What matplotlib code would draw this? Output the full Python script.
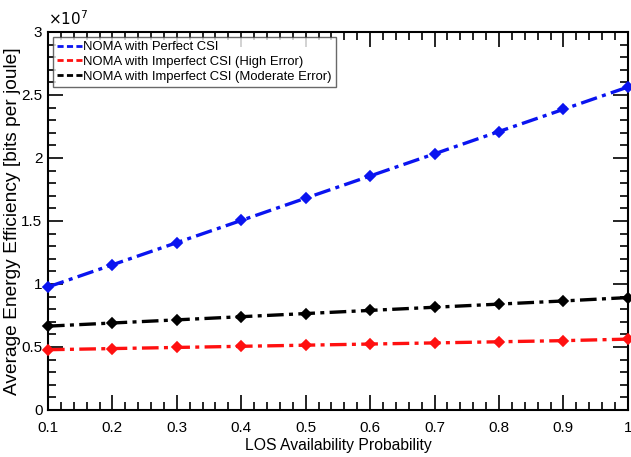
import matplotlib
matplotlib.use("Agg")
import matplotlib.pyplot as plt
from matplotlib.lines import Line2D
from matplotlib.ticker import MultipleLocator, FuncFormatter

plt.rcParams['font.family'] = ['Liberation Sans', 'DejaVu Sans']

los_prob = [0.1, 0.2, 0.3, 0.4, 0.5, 0.6, 0.7, 0.8, 0.9, 1.0]
ee_perfect = [0.976e7, 1.152e7, 1.328e7, 1.504e7, 1.681e7, 1.857e7, 2.033e7, 2.210e7, 2.386e7, 2.563e7]
ee_high_err = [0.478e7, 0.487e7, 0.496e7, 0.505e7, 0.514e7, 0.523e7, 0.532e7, 0.541e7, 0.550e7, 0.562e7]
ee_mod_err = [0.665e7, 0.690e7, 0.715e7, 0.740e7, 0.765e7, 0.790e7, 0.815e7, 0.840e7, 0.865e7, 0.892e7]

labels = ["NOMA with Perfect CSI",
          "NOMA with Imperfect CSI (High Error)",
          "NOMA with Imperfect CSI (Moderate Error)"]
colors = ["#0a14f0", "#ff1010", "#000000"]

fig = plt.figure(figsize=(6.31, 4.57), dpi=100)
ax = fig.add_axes([0.076, 0.103, 0.919, 0.827])

for y, c in zip([ee_perfect, ee_high_err, ee_mod_err], colors):
    ax.plot(los_prob, y, color=c, linestyle=(0, (5, 1.6, 1.2, 1.6)), linewidth=2.4,
            marker='D', markersize=5.5, markeredgewidth=1.2, clip_on=False, zorder=3)

ax.set_xlim(0.1, 1.0)
ax.set_ylim(0, 3e7)
ax.xaxis.set_major_locator(MultipleLocator(0.1))
ax.xaxis.set_minor_locator(MultipleLocator(0.02))
ax.yaxis.set_major_locator(MultipleLocator(0.5e7))
ax.yaxis.set_minor_locator(MultipleLocator(0.1e7))
ax.xaxis.set_major_formatter(FuncFormatter(lambda v, p: f"{v:g}"))
ax.yaxis.set_major_formatter(FuncFormatter(lambda v, p: f"{v / 1e7:g}"))

ax.tick_params(which='both', direction='in', top=True, right=True, labelsize=11, width=1.2)
ax.tick_params(which='major', length=11)
ax.tick_params(which='minor', length=6)
ax.tick_params(axis='y', which='major', pad=4)
ax.tick_params(axis='x', which='major', pad=8)
for s in ax.spines.values():
    s.set_linewidth(1.5)

ax.text(0.0, 1.01, r"$\times10^{7}$", transform=ax.transAxes, fontsize=11,
        ha='left', va='bottom')

ax.set_xlabel("LOS Availability Probability", fontsize=11.3, labelpad=2)
ax.set_ylabel("Average Energy Efficiency [bits per joule]", fontsize=13.8)
ax.yaxis.set_label_coords(-0.046, 0.50)

handles = [Line2D([0], [0], color=c, linestyle=(0, (2.2, 1.2)), linewidth=2) for c in colors]
leg = ax.legend(handles, labels, loc='upper left', fontsize=9.4, frameon=True, fancybox=False,
                edgecolor='#444444', handlelength=1.9, handletextpad=0.1, borderpad=0.3,
                labelspacing=0.2, borderaxespad=0.4)
leg.get_frame().set_linewidth(1.0)

fig.savefig("out.png", dpi=100)
